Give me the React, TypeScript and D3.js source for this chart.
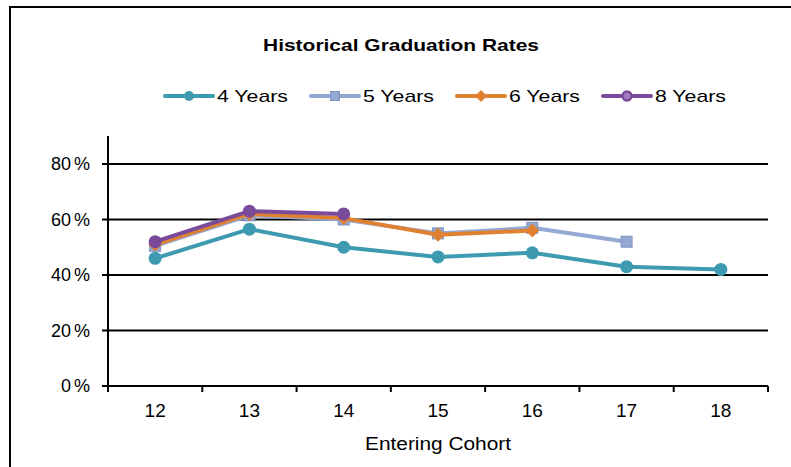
import React from "react";
import * as d3 from "d3";

const categories = ["12", "13", "14", "15", "16", "17", "18"];
const years4 = [46, 56.5, 50, 46.5, 48, 43, 42];
const years5 = [50.5, 61.5, 60, 55, 57, 52];
const years6 = [51, 62, 60.5, 54.5, 56];
const years8 = [52, 63, 62];
const yTicks = [0, 20, 40, 60, 80];
const seriesNames = ["4 Years", "5 Years", "6 Years", "8 Years"];

const W = 791;
const H = 467;
const left = 108;
const right = 768;
const y0 = 386;
const yTop = 136;

const series = [
  { name: seriesNames[0], values: years4, color: "#3E9AB1", marker: "circle" },
  { name: seriesNames[1], values: years5, color: "#93A8D3", stroke: "#7F94C0", marker: "square" },
  { name: seriesNames[2], values: years6, color: "#E08131", marker: "diamond" },
  { name: seriesNames[3], values: years8, color: "#7A4B9B", marker: "circle8" },
];

function Marker({ type, x, y, color, stroke, legend }: any) {
  if (type === "square") {
    const s = legend ? 9 : 11;
    return <rect x={x - s / 2} y={y - s / 2} width={s} height={s} fill={color} stroke={stroke || color} strokeWidth={1} />;
  }
  if (type === "diamond") {
    const s = legend ? 6 : 7;
    return <path d={`M${x},${y - s}L${x + s},${y}L${x},${y + s}L${x - s},${y}Z`} fill={color} />;
  }
  if (type === "circle8") {
    if (legend) return <circle cx={x} cy={y} r={4.5} fill="#A07CC0" stroke={color} strokeWidth={2.5} />;
    return <circle cx={x} cy={y} r={6.5} fill={color} />;
  }
  return <circle cx={x} cy={y} r={legend ? 5 : 6.5} fill={color} />;
}

export default function App() {
  const x = d3.scaleBand<string>().domain(categories).range([left, right]).padding(0);
  const y = d3.scaleLinear().domain([0, 90]).range([y0, y0 - 0.9 * 277.5]);
  const line = d3
    .line<number>()
    .x((_, i) => (x(categories[i]) as number) + x.bandwidth() / 2)
    .y((d) => y(d));

  const boundaries = d3.range(categories.length + 1).map((i) => left + i * x.bandwidth());
  const legendStarts = [165, 311, 457, 603];
  const font = "'Liberation Sans', Arial, sans-serif";

  return (
    <div style={{ position: "absolute", left: 0, top: 0, width: W, height: H, background: "#fff" }}>
      <svg width={W} height={H} style={{ display: "block", fontFamily: font }}>
        <rect x={0} y={0} width={W} height={H} fill="#fff" />
        {/* frame */}
        <line x1={9} x2={W} y1={7} y2={7} stroke="#000" strokeWidth={2} />
        <line x1={10} x2={10} y1={6} y2={H} stroke="#000" strokeWidth={2} />

        <text x={401} y={51} textAnchor="middle" fontSize={17} fontWeight="bold" fill="#000" textLength={276} lengthAdjust="spacingAndGlyphs">
          Historical Graduation Rates
        </text>

        {/* legend */}
        {series.map((s, i) => {
          const lx = legendStarts[i];
          return (
            <g key={s.name}>
              <line x1={lx} x2={lx + 48} y1={96} y2={96} stroke={s.color} strokeWidth={4} strokeLinecap="round" />
              <Marker type={s.marker} x={lx + 24} y={96} color={s.color} stroke={s.stroke} legend />
              <text x={lx + 52} y={102} fontSize={17} fill="#000" textLength={71} lengthAdjust="spacingAndGlyphs">
                {s.name}
              </text>
            </g>
          );
        })}

        {/* gridlines & y ticks */}
        {yTicks.map((t) => (
          <g key={t}>
            <line x1={102} x2={right} y1={y(t)} y2={y(t)} stroke="#000" strokeWidth={2} />
            <text x={90} y={y(t) + 6} textAnchor="end" fontSize={18} fill="#000">
              {t}
              <tspan dx={3}>%</tspan>
            </text>
          </g>
        ))}
        {/* y axis */}
        <line x1={left} x2={left} y1={yTop} y2={y0 + 6} stroke="#000" strokeWidth={2} />
        {/* x ticks */}
        {boundaries.map((b, i) => (
          <line key={i} x1={b} x2={b} y1={y0} y2={y0 + 6} stroke="#000" strokeWidth={2} />
        ))}
        {categories.map((c) => (
          <text key={c} x={(x(c) as number) + x.bandwidth() / 2} y={417} textAnchor="middle" fontSize={19} fill="#000">
            {c}
          </text>
        ))}
        <text x={438} y={450} textAnchor="middle" fontSize={18} fill="#000" textLength={146} lengthAdjust="spacingAndGlyphs">
          Entering Cohort
        </text>

        {/* series */}
        {series.map((s) => (
          <g key={s.name}>
            <path d={line(s.values) || ""} fill="none" stroke={s.color} strokeWidth={4} strokeLinejoin="round" />
            {s.values.map((v, i) => (
              <Marker
                key={i}
                type={s.marker}
                x={(x(categories[i]) as number) + x.bandwidth() / 2}
                y={y(v)}
                color={s.color}
                stroke={s.stroke}
              />
            ))}
          </g>
        ))}
      </svg>
    </div>
  );
}
